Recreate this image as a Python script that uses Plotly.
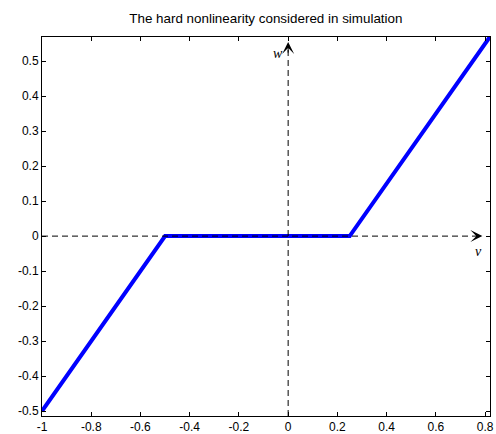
import plotly.graph_objects as go

# data
curve_x = [-1.0, -0.5, 0.25, 0.82]
curve_y = [-0.5, 0.0, 0.0, 0.57]
x_ticks = [-1, -0.8, -0.6, -0.4, -0.2, 0, 0.2, 0.4, 0.6, 0.8]
x_labels = ["-1", "-0.8", "-0.6", "-0.4", "-0.2", "0", "0.2", "0.4", "0.6", "0.8"]
y_ticks = [-0.5, -0.4, -0.3, -0.2, -0.1, 0, 0.1, 0.2, 0.3, 0.4, 0.5]
y_labels = ["-0.5", "-0.4", "-0.3", "-0.2", "-0.1", "0", "0.1", "0.2", "0.3", "0.4", "0.5"]
haxis_x = [-1.0, 0.775]
haxis_y = [0.0, 0.0]
vaxis_x = [0.0, 0.0]
vaxis_y = [-0.514, 0.54]
x_range = [-1.0, 0.82]
y_range = [-0.514, 0.569]

fig = go.Figure()
fig.add_trace(go.Scatter(x=curve_x, y=curve_y, mode="lines",
                         line=dict(color="#0000FF", width=4), showlegend=False))
fig.add_trace(go.Scatter(x=haxis_x, y=haxis_y, mode="lines",
                         line=dict(color="black", width=1, dash="6px,4px"), showlegend=False))
fig.add_trace(go.Scatter(x=vaxis_x, y=vaxis_y, mode="lines",
                         line=dict(color="black", width=1, dash="6px,4px"), showlegend=False))

# arrowheads
fig.add_annotation(x=0.789, y=0, ax=0.76, ay=0, xref="x", yref="y", axref="x", ayref="y",
                   text="", showarrow=True, arrowhead=3, arrowsize=2, arrowwidth=1, arrowcolor="black")
fig.add_annotation(x=0, y=0.555, ax=0, ay=0.52, xref="x", yref="y", axref="x", ayref="y",
                   text="", showarrow=True, arrowhead=3, arrowsize=2, arrowwidth=1, arrowcolor="black")
fig.add_annotation(x=0.773, y=-0.045, text="<i>v</i>", showarrow=False,
                   font=dict(family="Liberation Serif", size=14, color="black"))
fig.add_annotation(x=-0.04, y=0.522, text="<i>w</i>", showarrow=False,
                   font=dict(family="Liberation Serif", size=14, color="black"))

axis_common = dict(showgrid=False, zeroline=False, showline=True, linecolor="black", linewidth=1,
                   mirror="ticks", ticks="inside", ticklen=4, tickcolor="black", automargin=False,
                   tickfont=dict(family="Liberation Sans", size=12, color="black"))
fig.update_xaxes(range=x_range, tickvals=x_ticks, ticktext=x_labels, **axis_common)
fig.update_yaxes(range=y_range, tickvals=y_ticks, ticktext=y_labels, **axis_common)

fig.update_layout(
    width=496, height=434,
    margin=dict(l=42, r=6, t=37, b=18),
    paper_bgcolor="white", plot_bgcolor="white",
    title=dict(text="The hard nonlinearity considered in simulation", x=0.536, xanchor="center",
               y=1 - 18 / 434, yanchor="middle",
               font=dict(family="Liberation Sans", size=13.4, color="black")),
)
fig.write_html("out.html", config={"displayModeBar": False},
               post_script="document.body.style.margin='0';")
